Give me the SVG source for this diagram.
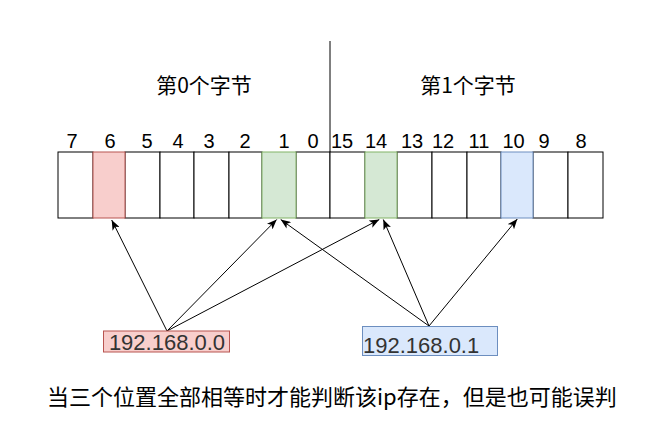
<svg xmlns="http://www.w3.org/2000/svg" width="650" height="433" viewBox="0 0 650 433">
<style>
.cell{fill:#ffffff;stroke:#000000;stroke-width:1}
.red{fill:#f8cecc;stroke:#b85450;stroke-width:1}
.green{fill:#d5e8d4;stroke:#82b366;stroke-width:1}
.blue{fill:#dae8fc;stroke:#6c8ebf;stroke-width:1}
.num{font-family:"Liberation Sans",Arial,sans-serif;font-size:20px;fill:#000;text-anchor:middle}
.cjk{font-family:"Noto Sans CJK SC","Noto Sans",sans-serif;fill:#000}
.ip{font-family:"Liberation Sans",Arial,sans-serif;font-size:22px;fill:#333333}
.conn{stroke:#000;stroke-width:1;fill:none;marker-end:url(#arr)}
</style>
<defs>
<marker id="arr" markerUnits="userSpaceOnUse" viewBox="0 0 10 8" refX="10" refY="4" markerWidth="10" markerHeight="8" orient="auto">
<path d="M0,0 L10,4 L0,8 L2.5,4 Z" fill="#000"/>
</marker>
</defs>
<rect width="650" height="433" fill="#ffffff"/>
<g id="divider">
<line x1="330" y1="41" x2="330" y2="152" stroke="#000" stroke-width="1"/>
</g>
<g id="headers">
<text class="cjk" x="204" y="93" font-size="21" text-anchor="middle">第0个字节</text>
<text class="cjk" x="468" y="93" font-size="21" text-anchor="middle">第1个字节</text>
</g>
<g id="bits">
<rect class="cell" x="58" y="152" width="35" height="66"/>
<rect class="cell" x="125" y="152" width="35" height="66"/>
<rect class="cell" x="160" y="152" width="34" height="66"/>
<rect class="cell" x="194" y="152" width="35" height="66"/>
<rect class="cell" x="229" y="152" width="33" height="66"/>
<rect class="cell" x="296" y="152" width="34" height="66"/>
<rect class="cell" x="330" y="152" width="35" height="66"/>
<rect class="cell" x="397" y="152" width="35" height="66"/>
<rect class="cell" x="432" y="152" width="35" height="66"/>
<rect class="cell" x="467" y="152" width="34" height="66"/>
<rect class="cell" x="533" y="152" width="35" height="66"/>
<rect class="cell" x="568" y="152" width="35" height="66"/>
<rect class="red" x="93" y="152" width="32" height="66"/>
<rect class="green" x="262" y="152" width="34" height="66"/>
<rect class="green" x="365" y="152" width="32" height="66"/>
<rect class="blue" x="501" y="152" width="32" height="66"/>
</g>
<g id="labels">
<text class="num" x="72" y="148">7</text>
<text class="num" x="110" y="148">6</text>
<text class="num" x="147" y="148">5</text>
<text class="num" x="178" y="148">4</text>
<text class="num" x="209" y="148">3</text>
<text class="num" x="245" y="148">2</text>
<text class="num" x="284" y="148">1</text>
<text class="num" x="313" y="148">0</text>
<text class="num" x="342" y="148">15</text>
<text class="num" x="376" y="148">14</text>
<text class="num" x="412" y="148">13</text>
<text class="num" x="443" y="148">12</text>
<text class="num" x="479" y="148">11</text>
<text class="num" x="513.5" y="148">10</text>
<text class="num" x="544" y="148">9</text>
<text class="num" x="581" y="148">8</text>
</g>
<g id="connectors">
<line class="conn" x1="167" y1="331" x2="111.7" y2="220"/>
<line class="conn" x1="167" y1="331" x2="276.7" y2="219.5"/>
<line class="conn" x1="167" y1="331" x2="379.3" y2="219.5"/>
<line class="conn" x1="429" y1="326" x2="280.7" y2="219.5"/>
<line class="conn" x1="429" y1="326" x2="383.3" y2="219.5"/>
<line class="conn" x1="429" y1="326" x2="517.3" y2="219"/>
</g>
<g id="ip0">
<rect class="red" x="103.5" y="331" width="126" height="21"/>
<text class="ip" x="167" y="350" text-anchor="middle">192.168.0.0</text>
</g>
<g id="ip1">
<rect class="blue" x="362.5" y="326.5" width="135" height="29"/>
<text class="ip" x="363" y="353">192.168.0.1</text>
</g>
<g id="caption">
<text class="cjk" x="47" y="405" font-size="22">当三个位置全部相等时才能判断该ip存在，但是也可能误判</text>
</g>
</svg>
